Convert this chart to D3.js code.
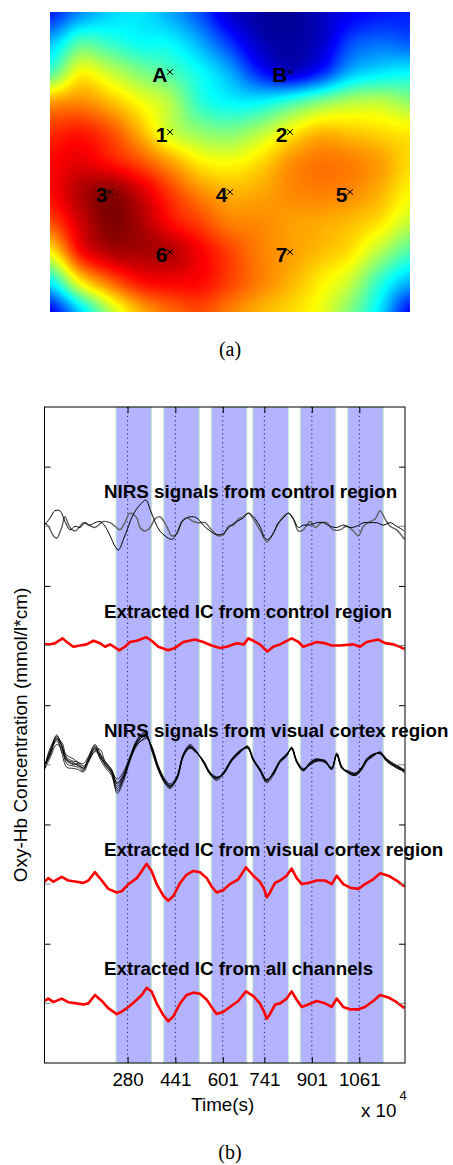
<!DOCTYPE html>
<html>
<head>
<meta charset="utf-8">
<script src="https://cdn.jsdelivr.net/npm/d3@7"></script>
<style>
body { margin: 0; background: #fff; }
</style>
</head>
<body>
<div id="chart"></div>
<script>

// ---------- (a) topographic map ----------
let channelNames = ['A', 'B', '1', '2', '3', '4', '5', '6', '7'];
let channelCol = [1, 3, 1, 3, 0, 2, 4, 1, 3];
let channelRow = [0, 0, 1, 1, 2, 2, 2, 3, 3];

// activation, 13 x 11 grid, step 0.5 channel, from (-1,-1) to (5,4)
let mapRows = [
  [0.15, 0.26, 0.33, 0.35, 0.29, 0.20, 0.07, 0.02, 0.01, 0.05, 0.11, 0.14, 0.15],
  [0.31, 0.45, 0.42, 0.38, 0.37, 0.29, 0.17, 0.05, 0.02, 0.06, 0.19, 0.23, 0.21],
  [0.45, 0.62, 0.57, 0.50, 0.45, 0.38, 0.29, 0.15, 0.07, 0.15, 0.30, 0.35, 0.37],
  [0.72, 0.74, 0.69, 0.62, 0.55, 0.42, 0.37, 0.37, 0.43, 0.50, 0.55, 0.56, 0.52],
  [0.83, 0.85, 0.80, 0.70, 0.58, 0.52, 0.50, 0.55, 0.63, 0.69, 0.68, 0.66, 0.64],
  [0.87, 0.90, 0.86, 0.80, 0.72, 0.64, 0.62, 0.66, 0.73, 0.76, 0.75, 0.72, 0.66],
  [0.87, 0.95, 0.99, 0.92, 0.82, 0.74, 0.70, 0.71, 0.74, 0.75, 0.74, 0.70, 0.63],
  [0.80, 0.92, 1.00, 0.96, 0.87, 0.81, 0.75, 0.74, 0.72, 0.71, 0.69, 0.65, 0.57],
  [0.63, 0.86, 0.95, 0.96, 0.95, 0.88, 0.81, 0.75, 0.72, 0.69, 0.65, 0.55, 0.45],
  [0.37, 0.63, 0.77, 0.86, 0.88, 0.87, 0.81, 0.75, 0.70, 0.64, 0.57, 0.42, 0.30],
  [0.12, 0.33, 0.55, 0.70, 0.77, 0.80, 0.75, 0.70, 0.66, 0.61, 0.50, 0.35, 0.13]
];

// ---------- (b) time courses ----------
let timeTicks = [280, 441, 601, 741, 901, 1061];
let blockStart = [241, 402, 562, 702, 862, 1022];
let blockLength = 120;
let yTicks = [100, 200, 300, 400, 500];
let panelBase = [450, 350, 250, 150, 50];
let panelTitles = [
  'NIRS signals from control region',
  'Extracted IC from control region',
  'NIRS signals from visual cortex region',
  'Extracted IC from visual cortex region',
  'Extracted IC from all channels'
];

// [time, offset from panel base]
let controlA = [[0,1],[19,7],[35,13],[52,13],[69,4],[86,-3],[103,0],[120,-1],[137,3],[153,1],[170,3],[187,4],[204,0],[221,-8],[238,-17],[249,-20],[266,-11],[283,0],[299,10],[322,18],[342,22],[356,14],[372,4],[389,-4],[406,-8],[429,-11],[446,-6],[462,3],[479,7],[502,8],[518,6],[535,1],[558,-4],[580,-7],[603,-6],[625,0],[648,4],[670,7],[687,11],[704,8],[726,0],[743,-10],[754,-11],[771,-6],[788,3],[805,7],[822,11],[839,6],[856,-1],[872,1],[895,1],[918,3],[940,3],[962,0],[985,-1],[1007,1],[1030,-1],[1052,0],[1075,3],[1097,3],[1120,3],[1142,1],[1165,3],[1187,0],[1213,-4]];
let controlB = [[0,3],[13,0],[30,-8],[41,-10],[58,-1],[69,8],[86,-1],[103,-4],[120,0],[131,3],[148,1],[170,-1],[198,4],[221,3],[238,0],[254,-3],[271,3],[288,11],[311,7],[322,-1],[339,-4],[356,-1],[372,6],[389,8],[412,0],[429,-8],[446,-6],[462,4],[479,7],[502,4],[518,3],[541,3],[563,-3],[586,-8],[603,-7],[620,0],[637,1],[653,6],[670,8],[687,11],[704,6],[726,-3],[749,-13],[766,-8],[783,0],[805,8],[822,11],[839,6],[856,-4],[872,-3],[895,4],[912,-1],[934,3],[951,3],[973,-3],[996,-3],[1018,0],[1041,-4],[1058,-8],[1075,0],[1097,4],[1114,6],[1131,13],[1148,6],[1165,0],[1187,-3],[1213,-11]];
let controlIC = [[0,1],[19,1],[36,2],[61,6],[75,3],[97,-1],[120,0],[142,1],[165,4],[187,2],[204,-1],[221,1],[234,-1],[252,-4],[271,-1],[288,3],[311,4],[342,7],[361,4],[384,-1],[417,-4],[440,-2],[468,3],[507,5],[535,3],[563,0],[592,-2],[614,-1],[648,2],[672,1],[687,6],[704,4],[726,1],[751,-5],[771,-1],[794,1],[833,6],[856,3],[872,-1],[895,1],[917,3],[945,2],[968,0],[996,0],[1041,1],[1063,-1],[1086,3],[1125,5],[1148,2],[1176,1],[1198,-1],[1213,-3]];

let visualT = [0,19,41,58,75,97,114,131,148,170,187,204,226,245,266,288,311,333,344,361,384,406,423,446,468,490,507,535,558,580,603,631,659,684,704,726,749,771,794,816,833,850,872,895,917,945,968,985,1002,1024,1047,1069,1086,1108,1131,1153,1176,1198,1213];
let visualCh1 = [-3,11,25,15,3,1,0,-3,4,14,8,1,-6,-18,-10,5,18,24,24,14,-3,-14,-18,-11,8,15,12,3,-7,-11,-7,4,11,15,4,-4,-13,-7,3,8,14,3,-4,1,4,3,-3,9,-2,-6,-8,-3,4,8,10,4,0,-3,-5];
let visualCh2 = [-1,8,21,19,6,3,2,-1,3,12,13,3,-4,-15,-8,6,20,26,25,12,-4,-16,-19,-10,9,16,13,2,-8,-12,-6,5,12,14,3,-5,-14,-6,4,9,13,2,-5,2,5,2,-2,8,-3,-5,-7,-2,5,9,9,3,-1,-4,-6];
let visualCh3 = [-2,14,23,10,-2,-3,-4,-6,2,15,5,-2,-9,-22,-12,4,16,22,23,15,-2,-13,-17,-12,7,14,11,4,-6,-10,-8,3,10,16,5,-3,-12,-8,2,7,15,4,-3,0,3,4,-4,10,-1,-7,-9,-4,3,7,11,5,1,-2,-4];
let visualCh4 = [-4,6,17,14,8,5,2,1,7,17,10,0,-7,-24,-14,3,17,21,22,16,-1,-12,-16,-10,8,14,12,3,-7,-11,-7,4,11,15,4,-4,-13,-7,3,8,14,3,-4,2,5,3,-3,9,-2,-6,-7,-2,5,9,10,5,1,-2,-7];
let visualCh5 = [0,10,24,17,1,-1,-2,-5,5,13,6,2,-5,-12,-6,7,21,27,26,13,-5,-15,-20,-12,9,17,13,2,-8,-13,-8,5,12,15,5,-5,-15,-9,3,9,13,2,-5,0,3,2,-4,8,-3,-7,-9,-4,3,8,10,3,-1,-4,-4];
let visualCh6 = [-3,12,20,12,4,2,-1,-2,3,11,9,3,-4,-16,-9,5,19,25,24,14,-3,-14,-18,-11,7,15,12,3,-7,-11,-7,4,11,14,4,-4,-13,-7,3,8,14,3,-4,1,4,3,-3,9,-2,-6,-8,-3,4,8,10,4,0,-3,-5];
let visualCh7 = [-2,9,22,16,5,0,1,-4,6,16,7,0,-7,-20,-11,5,18,24,24,15,-3,-14,-18,-11,8,15,12,3,-7,-11,-7,4,11,15,4,-4,-13,-7,3,8,14,3,-4,1,4,3,-3,9,-2,-6,-8,-3,4,8,10,4,0,-3,-5];

let visualIC = [[0,2],[13,5],[30,2],[58,6],[80,3],[108,2],[131,1],[148,3],[170,10],[193,3],[215,-4],[243,-7],[260,-6],[283,0],[311,5],[328,11],[344,17],[361,11],[378,0],[401,-10],[417,-14],[434,-10],[457,1],[479,8],[502,11],[524,10],[547,5],[563,-2],[580,-7],[603,-5],[625,0],[653,4],[679,14],[704,7],[726,2],[740,-4],[749,-11],[760,-7],[777,1],[794,3],[816,7],[833,13],[850,5],[867,0],[889,1],[917,3],[945,3],[968,0],[985,7],[1007,0],[1030,-3],[1058,-4],[1080,0],[1108,4],[1131,9],[1159,7],[1187,3],[1213,-2]];
let allIC = [[0,2],[13,4],[30,1],[58,4],[80,1],[108,0],[131,-1],[148,0],[170,7],[193,2],[215,-4],[243,-9],[260,-7],[283,-3],[311,3],[328,7],[344,13],[361,10],[378,0],[401,-10],[417,-15],[434,-11],[457,0],[479,7],[502,9],[524,8],[547,3],[563,-3],[580,-9],[603,-7],[625,-3],[653,2],[679,10],[704,6],[726,0],[740,-7],[749,-13],[760,-9],[777,-1],[794,0],[816,4],[833,10],[850,3],[867,-3],[889,-1],[917,2],[945,0],[968,-3],[985,4],[1007,-3],[1030,-5],[1058,-5],[1080,-3],[1108,2],[1131,7],[1159,5],[1187,1],[1213,-4]];

// ---------- svg ----------
let svg = d3.select('#chart').append('svg')
  .attr('width', 453)
  .attr('height', 1165)
  .style('background', '#fff');

let sans = "'Liberation Sans', Arial, Helvetica, sans-serif";
let serif = "'Liberation Serif', 'Times New Roman', serif";

// jet colormap
let jet = d3.scaleLinear()
  .domain([0, 0.125, 0.375, 0.625, 0.875, 1])
  .range(['#00008f', '#0000ff', '#00ffff', '#ffff00', '#ff0000', '#800000'])
  .clamp(true);

let mapX = d3.scaleLinear().domain([-1, 5]).range([50, 410]);
let mapY = d3.scaleLinear().domain([-1, 4]).range([12, 312]);

// catmull-rom through the grid values
function spline(vals, t) {
  let n = vals.length - 1;
  let s = Math.max(0, Math.min(1, t)) * n;
  let i = Math.min(Math.floor(s), n - 1);
  let f = s - i;
  let p0 = vals[Math.max(i - 1, 0)], p1 = vals[i], p2 = vals[i + 1], p3 = vals[Math.min(i + 2, n)];
  return 0.5 * (2 * p1 + (p2 - p0) * f + (2 * p0 - 5 * p1 + 4 * p2 - p3) * f * f + (3 * p1 - p0 - 3 * p2 + p3) * f * f * f);
}

let mw = 360, mh = 300;
let canvas = document.createElement('canvas');
canvas.width = mw;
canvas.height = mh;
let ctx = canvas.getContext('2d');
let img = ctx.createImageData(mw, mh);
for (let cx = 0; cx < mw; cx++) {
  let tx = (mapX.invert(50 + cx + 0.5) + 1) / 6;
  let colVals = mapRows.map(r => spline(r, tx));
  for (let cy = 0; cy < mh; cy++) {
    let ty = (mapY.invert(12 + cy + 0.5) + 1) / 5;
    let c = d3.rgb(jet(spline(colVals, ty)));
    let k = (cy * mw + cx) * 4;
    img.data[k] = c.r;
    img.data[k + 1] = c.g;
    img.data[k + 2] = c.b;
    img.data[k + 3] = 255;
  }
}
ctx.putImageData(img, 0, 0);

svg.append('image')
  .attr('x', 50).attr('y', 12)
  .attr('width', mw).attr('height', mh)
  .attr('preserveAspectRatio', 'none')
  .attr('href', canvas.toDataURL());

let marks = svg.append('g').selectAll('g')
  .data(channelNames)
  .enter().append('g')
  .attr('transform', (d, i) => 'translate(' + mapX(channelCol[i]) + ',' + mapY(channelRow[i]) + ')');

marks.append('path')
  .attr('d', 'M-3,-2.8L3,2.8M-3,2.8L3,-2.8')
  .attr('stroke', '#000')
  .attr('stroke-width', 1);

marks.append('text')
  .attr('x', -2.5)
  .attr('y', 9.5)
  .attr('text-anchor', 'end')
  .style('font-family', sans)
  .style('font-weight', 'bold')
  .style('font-size', '21px')
  .text(d => d);

svg.append('text')
  .attr('x', 230).attr('y', 356)
  .attr('text-anchor', 'middle')
  .style('font-family', serif)
  .style('font-size', '20px')
  .text('(a)');

// ---------- chart (b) ----------
let x = d3.scaleLinear().domain([0, 1215]).range([44.5, 405]);
let y = d3.scaleLinear().domain([0, 550]).range([1063, 407]);

let plot = svg.append('g');

plot.selectAll('.block')
  .data(blockStart)
  .enter().append('rect')
  .attr('class', 'block')
  .attr('x', d => x(d))
  .attr('y', y(550))
  .attr('width', d => x(d + blockLength) - x(d))
  .attr('height', y(0) - y(550))
  .attr('fill', '#b3b3ff')
  .attr('stroke', '#c4eccc')
  .attr('stroke-width', 1);

plot.selectAll('.onset')
  .data(timeTicks)
  .enter().append('line')
  .attr('class', 'onset')
  .attr('x1', d => x(d)).attr('x2', d => x(d))
  .attr('y1', y(550)).attr('y2', y(0))
  .attr('stroke', '#1a1a66')
  .attr('stroke-width', 1)
  .attr('stroke-dasharray', '1.2,3.2');

let line = d3.line()
  .x(d => x(d[0]))
  .y(d => y(d[1]))
  .curve(d3.curveCatmullRom.alpha(0.5));

let jagged = d3.line()
  .x(d => x(d[0]))
  .y(d => y(d[1]));

function drawSignal(data, base, color, w, gen) {
  plot.append('path')
    .datum(data.map(d => [d[0], base + d[1]]))
    .attr('d', gen)
    .attr('fill', 'none')
    .attr('stroke', color)
    .attr('stroke-width', w)
    .attr('stroke-linejoin', 'round');
}

drawSignal(controlB, panelBase[0], '#606060', 1.4, line);
drawSignal(controlA, panelBase[0], '#000', 1, line);
drawSignal(controlIC, panelBase[1], '#ff0000', 2.6, jagged);

let visualChannels = [visualCh1, visualCh2, visualCh3, visualCh4, visualCh5, visualCh6, visualCh7];
visualChannels.forEach(ch => {
  drawSignal(visualT.map((t, i) => [t, ch[i]]), panelBase[2], '#000', 0.8, line);
});

drawSignal(visualIC, panelBase[3], '#ff0000', 2.6, jagged);
drawSignal(allIC, panelBase[4], '#ff0000', 2.6, jagged);

// small baseline marks
panelBase.forEach(b => {
  plot.append('line')
    .attr('x1', x(1215) - 7).attr('x2', x(1215))
    .attr('y1', y(b)).attr('y2', y(b))
    .attr('stroke', '#888').attr('stroke-width', 1);
  plot.append('line')
    .attr('x1', x(0)).attr('x2', x(0) + 6)
    .attr('y1', y(b)).attr('y2', y(b))
    .attr('stroke', '#888').attr('stroke-width', 1);
});

plot.selectAll('.ptitle')
  .data(panelTitles)
  .enter().append('text')
  .attr('class', 'ptitle')
  .attr('x', 104)
  .attr('y', (d, i) => y(panelBase[i]) - 28)
  .style('font-family', sans)
  .style('font-weight', 'bold')
  .style('font-size', '18.8px')
  .text(d => d);

// axes
let yAxisL = d3.axisLeft(y).tickValues(yTicks).tickSize(-6).tickSizeOuter(0).tickFormat('');
let yAxisR = d3.axisRight(y).tickValues(yTicks).tickSize(-6).tickSizeOuter(0).tickFormat('');
let xAxisB = d3.axisBottom(x).tickValues(timeTicks).tickSize(-6).tickSizeOuter(0)
  .tickPadding(10).tickFormat(d3.format('d'));
let xAxisT = d3.axisTop(x).tickValues(timeTicks).tickSize(-6).tickSizeOuter(0).tickFormat('');

svg.append('g').attr('transform', 'translate(' + x(0) + ',0)').call(yAxisL);
svg.append('g').attr('transform', 'translate(' + x(1215) + ',0)').call(yAxisR);
let gx = svg.append('g').attr('transform', 'translate(0,' + y(0) + ')').call(xAxisB);
svg.append('g').attr('transform', 'translate(0,' + y(550) + ')').call(xAxisT);

svg.selectAll('.domain').remove();
svg.selectAll('.tick line').attr('stroke', '#000');
gx.selectAll('text')
  .attr('fill', '#000')
  .style('font-family', sans)
  .style('font-size', '18.8px');

svg.append('rect')
  .attr('x', x(0)).attr('y', y(550))
  .attr('width', x(1215) - x(0))
  .attr('height', y(0) - y(550))
  .attr('fill', 'none')
  .attr('stroke', '#000')
  .attr('stroke-width', 1);

svg.append('text')
  .attr('x', 222.7).attr('y', 1110.7)
  .attr('text-anchor', 'middle')
  .style('font-family', sans)
  .style('font-size', '18.8px')
  .text('Time(s)');

let expo = svg.append('text')
  .attr('x', 361).attr('y', 1117)
  .style('font-family', sans)
  .style('font-size', '18.8px');
expo.append('tspan').text('x 10');
expo.append('tspan').attr('dx', 3).attr('dy', -17).style('font-size', '13px').text('4');

svg.append('text')
  .attr('transform', 'translate(27,735) rotate(-90)')
  .attr('text-anchor', 'middle')
  .style('font-family', sans)
  .style('font-size', '19px')
  .text('Oxy-Hb Concentration (mmol/l*cm)');

svg.append('text')
  .attr('x', 230).attr('y', 1158.5)
  .attr('text-anchor', 'middle')
  .style('font-family', serif)
  .style('font-size', '20px')
  .text('(b)');

</script>
</body>
</html>
